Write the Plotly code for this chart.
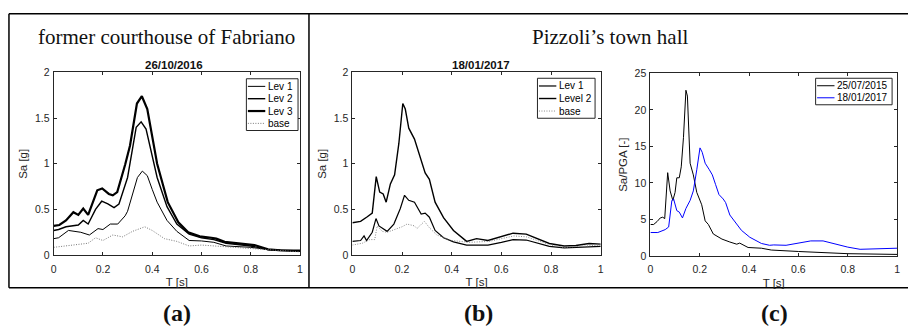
import plotly.graph_objects as go

# ---------------- data ----------------
# (a) former courthouse of Fabriano, 26/10/2016
a_lev1_T = [0, 0.02, 0.06, 0.08, 0.11, 0.145, 0.18, 0.20, 0.23, 0.26, 0.29, 0.30, 0.34, 0.36, 0.38, 0.40, 0.42, 0.46, 0.50, 0.55, 0.60, 0.65, 0.70, 0.80, 0.90, 1.0]
a_lev1_Sa = [0.18, 0.19, 0.27, 0.26, 0.25, 0.22, 0.29, 0.28, 0.34, 0.34, 0.43, 0.48, 0.85, 0.92, 0.87, 0.72, 0.58, 0.38, 0.26, 0.16, 0.155, 0.14, 0.10, 0.085, 0.05, 0.04]
a_lev2_T = [0, 0.02, 0.05, 0.10, 0.12, 0.14, 0.17, 0.195, 0.22, 0.245, 0.265, 0.30, 0.335, 0.355, 0.375, 0.40, 0.42, 0.46, 0.50, 0.55, 0.60, 0.65, 0.70, 0.80, 0.87, 1.0]
a_lev2_Sa = [0.27, 0.28, 0.31, 0.33, 0.38, 0.34, 0.50, 0.59, 0.56, 0.52, 0.56, 0.85, 1.40, 1.46, 1.38, 1.10, 0.85, 0.53, 0.34, 0.23, 0.19, 0.17, 0.13, 0.10, 0.06, 0.045]
a_lev3_T = [0, 0.023, 0.05, 0.08, 0.10, 0.12, 0.14, 0.177, 0.197, 0.224, 0.24, 0.258, 0.29, 0.31, 0.338, 0.358, 0.38, 0.42, 0.463, 0.506, 0.546, 0.593, 0.64, 0.66, 0.694, 0.774, 0.815, 0.87, 0.92, 1.0]
a_lev3_Sa = [0.32, 0.33, 0.38, 0.47, 0.44, 0.51, 0.44, 0.71, 0.73, 0.67, 0.655, 0.69, 0.99, 1.2, 1.66, 1.74, 1.6, 1.0, 0.58, 0.36, 0.25, 0.205, 0.19, 0.18, 0.145, 0.127, 0.11, 0.063, 0.053, 0.05]
a_base_T = [0, 0.05, 0.10, 0.14, 0.17, 0.20, 0.24, 0.28, 0.32, 0.37, 0.40, 0.45, 0.50, 0.55, 0.60, 0.70, 0.80, 0.90, 1.0]
a_base_Sa = [0.085, 0.10, 0.12, 0.13, 0.19, 0.16, 0.22, 0.20, 0.26, 0.31, 0.27, 0.18, 0.15, 0.10, 0.11, 0.09, 0.075, 0.05, 0.035]

# (b) Pizzoli's town hall, 18/01/2017
b_lev1_T = [0, 0.033, 0.047, 0.057, 0.08, 0.095, 0.107, 0.124, 0.14, 0.167, 0.193, 0.21, 0.227, 0.25, 0.277, 0.293, 0.31, 0.333, 0.367, 0.407, 0.46, 0.50, 0.546, 0.60, 0.647, 0.70, 0.75, 0.793, 0.853, 0.90, 1.0]
b_lev1_Sa = [0.15, 0.16, 0.21, 0.16, 0.25, 0.40, 0.32, 0.29, 0.26, 0.34, 0.51, 0.655, 0.60, 0.58, 0.45, 0.46, 0.415, 0.27, 0.19, 0.145, 0.11, 0.11, 0.11, 0.14, 0.17, 0.165, 0.13, 0.095, 0.08, 0.085, 0.095]
b_lev2_T = [0, 0.033, 0.06, 0.07, 0.08, 0.096, 0.11, 0.124, 0.136, 0.153, 0.17, 0.187, 0.203, 0.213, 0.227, 0.25, 0.273, 0.293, 0.31, 0.333, 0.367, 0.407, 0.46, 0.473, 0.50, 0.546, 0.60, 0.647, 0.70, 0.75, 0.793, 0.853, 0.90, 0.953, 1.0]
b_lev2_Sa = [0.355, 0.37, 0.42, 0.44, 0.46, 0.86, 0.69, 0.67, 0.58, 0.78, 0.88, 1.22, 1.66, 1.6, 1.39, 1.27, 1.08, 0.9, 0.83, 0.58, 0.41, 0.27, 0.15, 0.16, 0.18, 0.16, 0.20, 0.24, 0.23, 0.17, 0.127, 0.10, 0.105, 0.127, 0.12]
b_base_T = [0, 0.04, 0.07, 0.09, 0.10, 0.12, 0.14, 0.17, 0.20, 0.22, 0.25, 0.26, 0.29, 0.31, 0.34, 0.40, 0.47, 0.55, 0.65, 0.70, 0.80, 0.85, 1.0]
b_base_Sa = [0.11, 0.13, 0.17, 0.17, 0.32, 0.26, 0.25, 0.28, 0.31, 0.34, 0.32, 0.29, 0.37, 0.30, 0.22, 0.16, 0.14, 0.15, 0.21, 0.20, 0.11, 0.085, 0.11]

# (c) normalised spectra Sa/PGA
c_2015_T = [0, 0.013, 0.027, 0.04, 0.05, 0.058, 0.07, 0.08, 0.091, 0.10, 0.107, 0.117, 0.125, 0.134, 0.144, 0.15, 0.161, 0.174, 0.188, 0.208, 0.222, 0.235, 0.255, 0.29, 0.322, 0.35, 0.362, 0.396, 0.45, 0.49, 0.6, 0.7, 0.8, 1.0]
c_2015_V = [4.3, 4.3, 4.7, 5.2, 5.3, 5.1, 11.4, 8.9, 7.6, 8.7, 10.7, 10.7, 12.2, 16.2, 22.7, 21.9, 12.7, 11.1, 8.7, 7.0, 4.8, 4.3, 3.0, 2.3, 1.9, 1.6, 1.75, 1.15, 1.05, 0.8, 0.6, 0.4, 0.3, 0.2]
c_2017_T = [0, 0.03, 0.06, 0.074, 0.087, 0.094, 0.107, 0.117, 0.13, 0.144, 0.161, 0.174, 0.188, 0.201, 0.21, 0.222, 0.239, 0.251, 0.264, 0.278, 0.295, 0.305, 0.322, 0.342, 0.369, 0.403, 0.45, 0.483, 0.5, 0.55, 0.6, 0.65, 0.7, 0.75, 0.8, 0.85, 0.9, 0.95, 1.0]
c_2017_V = [3.2, 3.2, 3.6, 3.96, 7.6, 7.8, 6.2, 6.0, 5.2, 6.5, 7.6, 8.9, 11.8, 14.8, 14.2, 12.7, 11.8, 11.1, 9.8, 8.4, 7.8, 7.3, 5.6, 4.75, 3.5, 2.55, 1.7, 1.45, 1.5, 1.45, 1.75, 2.05, 2.05, 1.6, 1.2, 0.9, 0.95, 1.1, 1.05]

x_ticks = [0, 0.2, 0.4, 0.6, 0.8, 1]
x_ticklabels = ["0", "0.2", "0.4", "0.6", "0.8", "1"]
sa_ticks = [0, 0.5, 1, 1.5, 2]
sa_ticklabels = ["0", "0.5", "1", "1.5", "2"]
c_ticks = [0, 5, 10, 15, 20, 25]

# ---------------- figure ----------------
W, H = 911, 330
SANS = "Liberation Sans, Arial, sans-serif"
SERIF = "Liberation Serif, Times New Roman, serif"
AX = "#262626"
DOT = "1px,1.5px"


def px(x):
    return x / W


def py(y):
    return 1 - y / H


fig = go.Figure()
legend_entries = {"a": [], "b": [], "c": []}


def add(x, y, name, xa, ya, panel, width=1.0, color="black", dash="solid"):
    style = dict(color=color, width=width, dash=dash)
    fig.add_trace(go.Scatter(x=x, y=y, name=name, mode="lines", line=style,
                             xaxis=xa, yaxis=ya, showlegend=False))
    legend_entries[panel].append((name, style))


add(a_lev1_T, a_lev1_Sa, "Lev 1", "x", "y", "a", 1.0)
add(a_lev2_T, a_lev2_Sa, "Lev 2", "x", "y", "a", 1.4)
add(a_lev3_T, a_lev3_Sa, "Lev 3", "x", "y", "a", 2.2)
add(a_base_T, a_base_Sa, "base", "x", "y", "a", 1.0, "#777777", DOT)

add(b_lev1_T, b_lev1_Sa, "Lev 1", "x2", "y2", "b", 1.2)
add(b_lev2_T, b_lev2_Sa, "Level 2", "x2", "y2", "b", 1.4)
add(b_base_T, b_base_Sa, "base", "x2", "y2", "b", 1.0, "#888888", DOT)

add(c_2015_T, c_2015_V, "25/07/2015", "x3", "y3", "c", 1.0)
add(c_2017_T, c_2017_V, "18/01/2017", "x3", "y3", "c", 1.0, "#0000ff")

axis_common = dict(showline=True, linecolor=AX, linewidth=1, mirror="ticks",
                   ticks="inside", ticklen=3, tickcolor=AX, showgrid=False,
                   zeroline=False, tickfont=dict(family=SANS, size=10.5, color=AX))


def xaxis(domain, anchor):
    return dict(axis_common, domain=domain, anchor=anchor, range=[0, 1],
                tickvals=x_ticks, ticktext=x_ticklabels, ticklabelstandoff=4,
                title=dict(text="T [s]", font=dict(family=SANS, size=11.5, color=AX), standoff=4))


def yaxis(domain, anchor, rng, tv, tt, title):
    return dict(axis_common, domain=domain, anchor=anchor, range=rng,
                tickvals=tv, ticktext=tt, ticklabelstandoff=1,
                title=dict(text=title, font=dict(family=SANS, size=11.5, color=AX), standoff=4))


ya_dom = [py(258.5), py(69)]
yc_dom = [py(259.3), py(70)]

fig.update_layout(
    width=W, height=H, margin=dict(l=0, r=0, t=0, b=0),
    paper_bgcolor="white", plot_bgcolor="white", showlegend=False,
    xaxis=xaxis([px(51), px(299)], "y"),
    yaxis=yaxis(ya_dom, "x", [0, 2], sa_ticks, sa_ticklabels, "Sa [g]"),
    xaxis2=xaxis([px(351.7), px(601.7)], "y2"),
    yaxis2=yaxis(ya_dom, "x2", [0, 2], sa_ticks, sa_ticklabels, "Sa [g]"),
    xaxis3=xaxis([px(651.7), px(900)], "y3"),
    yaxis3=yaxis(yc_dom, "x3", [0, 25], c_ticks, [str(v) for v in c_ticks], "Sa/PGA [-]"),
)

# compact MATLAB-style legend boxes (left, top, right, row height)
legend_boxes = {"a": (245, 75.5, 297, 12.8), "b": (538, 75, 596, 13.0), "c": (818, 75, 895, 12.5)}
for panel, (x0, y0, x1, rowh) in legend_boxes.items():
    entries = legend_entries[panel]
    y1 = y0 + rowh * len(entries) + 2.5
    fig.add_shape(type="rect", xref="paper", yref="paper",
                  x0=px(x0), x1=px(x1), y0=py(y0), y1=py(y1),
                  line=dict(color=AX, width=1), fillcolor="white", layer="above")
    for i, (name, style) in enumerate(entries):
        yc = y0 + 1.5 + rowh * (i + 0.5)
        fig.add_shape(type="line", xref="paper", yref="paper",
                      x0=px(x0 + 1.5), x1=px(x0 + 19), y0=py(yc), y1=py(yc),
                      line=style, layer="above")
        fig.add_annotation(x=px(x0 + 19.5), y=py(yc), xref="paper", yref="paper",
                           text=name, showarrow=False, xanchor="left", yanchor="middle",
                           font=dict(family=SANS, size=10, color="black"))

# frame lines
frame = dict(color="black", width=1.5)
fig.add_shape(type="line", xref="paper", yref="paper", x0=px(6), x1=1, y0=py(8), y1=py(8), line=frame)
fig.add_shape(type="line", xref="paper", yref="paper", x0=px(6), x1=1, y0=py(292.5), y1=py(292.5), line=frame)
fig.add_shape(type="line", xref="paper", yref="paper", x0=px(6), x1=px(6), y0=py(8), y1=py(292.5), line=frame)
fig.add_shape(type="line", xref="paper", yref="paper", x0=px(308), x1=px(308), y0=py(8), y1=py(292.5), line=frame)


def text(x, y, s, family, size, bold=False):
    fig.add_annotation(x=px(x), y=py(y), xref="paper", yref="paper", showarrow=False,
                       text=f"<b>{s}</b>" if bold else s,
                       font=dict(family=family, size=size, color="#111111"),
                       xanchor="center", yanchor="middle")


text(165, 32, "former courthouse of Fabriano", SERIF, 21)
text(611, 32, "Pizzoli’s town hall", SERIF, 21)
text(172, 61, "26/10/2016", SANS, 11.5, True)
text(481, 61, "18/01/2017", SANS, 11.5, True)
text(175, 319, "(a)", SERIF, 24, True)
text(479, 319, "(b)", SERIF, 24, True)
text(777, 319, "(c)", SERIF, 24, True)

fig.write_html("out.html")
